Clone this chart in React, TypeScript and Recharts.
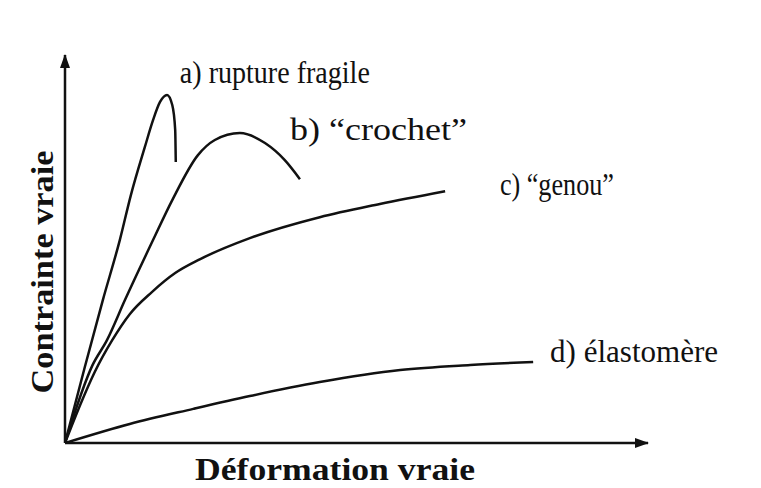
import React from 'react';
import { LineChart, Line, XAxis, YAxis, ReferenceDot } from 'recharts';

// qualitative stress/strain curves (arbitrary units, 0-100 on both axes)
const fragileX = [0, 3.4, 6.5, 9.4, 11.3, 13.7, 15.1, 16.3, 17.5, 18.4, 18.9, 19.0];
const fragileY = [0, 19.6, 36.9, 52.3, 63.9, 76.3, 83.2, 87.9, 89.7, 87.1, 80.7, 72.4];

const crochetX = [0, 4.7, 7.2, 10.3, 15.1, 18.4, 22.8, 25.7, 30.0, 34.3, 37.7, 40.3];
const crochetY = [0, 20.0, 26.5, 36.9, 52.3, 62.6, 74.2, 78.1, 79.9, 77.3, 72.9, 68.0];

const genouX = [0, 2.6, 5.1, 8.1, 11.1, 14.9, 18.9, 23.2, 31.7, 43.7, 54.0, 65.2];
const genouY = [0, 9.8, 18.3, 26.5, 33.2, 38.9, 43.8, 47.4, 52.8, 58.2, 61.6, 64.9];

const elastoX = [0, 11.1, 22.0, 31.7, 43.7, 57.5, 69.5, 80.3];
const elastoY = [0, 4.9, 8.8, 12.1, 15.7, 18.8, 20.1, 20.9];

const curveNames = ['a) rupture fragile', 'b) \u201ccrochet\u201d', 'c) \u201cgenou\u201d', 'd) élastomère'];

const toPoints = (xs: number[], ys: number[]) => xs.map((x, i) => ({ x, y: ys[i] }));

const series = [
  toPoints(fragileX, fragileY),
  toPoints(crochetX, crochetY),
  toPoints(genouX, genouY),
  toPoints(elastoX, elastoY),
];

// where each curve's caption starts, and how wide it is set in the scan
const labelX = [19.7, 38.6, 74.6, 83.2];
const labelY = [95.6, 80.7, 66.5, 23.5];
const labelWidth = [190, 177, 114, 168];

const FONT = '"Liberation Serif", "Times New Roman", serif';
const INK = '#111';

const CurveLabel = ({ viewBox, value, width }: any) => (
  <text
    x={viewBox.x}
    y={viewBox.y}
    fill={INK}
    fontFamily={FONT}
    fontSize={31}
    dominantBaseline="central"
    textAnchor="start"
    textLength={width}
    lengthAdjust="spacingAndGlyphs"
  >
    {value}
  </text>
);

const App: React.FC = () => {
  return (
    <div style={{ position: 'absolute', left: 0, top: 0, width: 761, height: 488, background: '#fff' }}>
      <LineChart width={761} height={488} margin={{ top: 55, right: 113, bottom: 0, left: 5 }}>
        <defs>
          <marker id="arrowHead" viewBox="0 0 14 10" refX="13" refY="5" markerWidth="14" markerHeight="10"
            markerUnits="userSpaceOnUse" orient="auto-start-reverse">
            <path d="M0,0 L14,5 L0,10 z" fill={INK} />
          </marker>
        </defs>
        <XAxis
          type="number"
          dataKey="x"
          domain={[0, 100]}
          allowDataOverflow
          height={45}
          tick={false}
          tickLine={false}
          axisLine={{ stroke: INK, strokeWidth: 2.5, markerEnd: 'url(#arrowHead)' }}
          label={({ viewBox }: any) => (
            <text x={viewBox.x + 270} y={viewBox.y + 26} fill={INK} fontFamily={FONT} fontWeight="bold"
              fontSize={31} textAnchor="middle" dominantBaseline="central"
              textLength={280} lengthAdjust="spacingAndGlyphs">
              Déformation vraie
            </text>
          )}
        />
        <YAxis
          type="number"
          domain={[0, 100]}
          allowDataOverflow
          width={60}
          tick={false}
          tickLine={false}
          axisLine={{ stroke: INK, strokeWidth: 2.5, markerStart: 'url(#arrowHead)' }}
          label={({ viewBox }: any) => (
            <text x={viewBox.x + 37} y={viewBox.y + 217} fill={INK} fontFamily={FONT} fontWeight="bold"
              fontSize={32} textAnchor="middle" dominantBaseline="central"
              textLength={243} lengthAdjust="spacingAndGlyphs"
              transform={`rotate(-90, ${viewBox.x + 37}, ${viewBox.y + 217})`}>
              Contrainte vraie
            </text>
          )}
        />
        {series.map((pts, i) => (
          <Line
            key={curveNames[i]}
            data={pts}
            dataKey="y"
            type="monotone"
            stroke={INK}
            strokeWidth={2.5}
            dot={false}
            activeDot={false}
            isAnimationActive={false}
          />
        ))}
        {curveNames.map((name, i) => (
          <ReferenceDot
            key={name}
            x={labelX[i]}
            y={labelY[i]}
            r={0}
            ifOverflow="visible"
            label={<CurveLabel value={name} width={labelWidth[i]} />}
          />
        ))}
      </LineChart>
    </div>
  );
};

export default App;
